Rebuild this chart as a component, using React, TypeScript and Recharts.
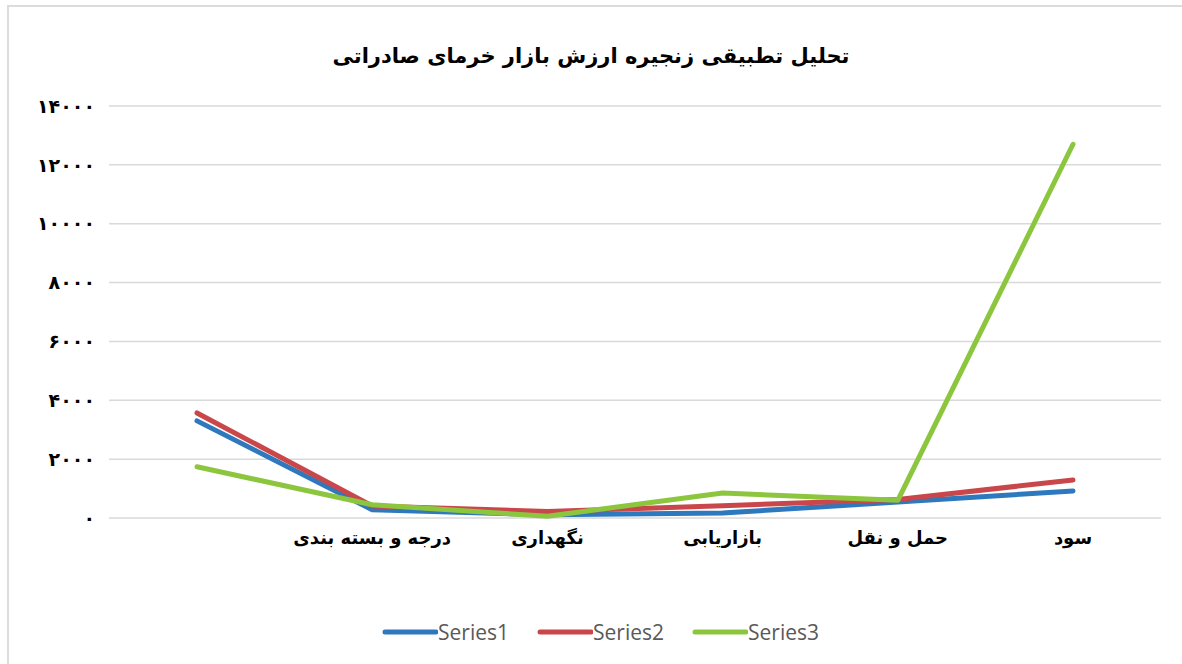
import React from "react";
import { LineChart, Line, XAxis, YAxis, CartesianGrid, Legend } from "recharts";

const categories = ["", "درجه و بسته بندی", "نگهداری", "بازاریابی", "حمل و نقل", "سود"];
const series1 = [3300, 280, 110, 170, 540, 920];
const series2 = [3570, 410, 220, 420, 630, 1290];
const series3 = [1740, 450, 60, 850, 600, 12700];
const yTicks = [0, 2000, 4000, 6000, 8000, 10000, 12000, 14000];
const seriesNames = ["Series1", "Series2", "Series3"];
const seriesColors = ["#2E78BE", "#C9474A", "#8CC63E"];
const title = "تحلیل تطبیقی زنجیره ارزش بازار خرمای صادراتی";

const data = categories.map((c, i) => ({
  name: c,
  Series1: series1[i],
  Series2: series2[i],
  Series3: series3[i],
}));

const faDigits = "۰۱۲۳۴۵۶۷۸۹";
const toFa = (v: number | string) => String(v).replace(/[0-9]/g, (d) => faDigits[Number(d)]);

const W = 1182;
const H = 664;
const plotLeft = 109;
const plotRight = 1161;
const pad = Math.round((plotRight - plotLeft) / 12);

const LegendContent = () => (
  <div style={{ display: "flex", justifyContent: "center", alignItems: "center", gap: 28, paddingLeft: 40 }}>
    {seriesNames.map((n, i) => (
      <div key={n} style={{ display: "flex", alignItems: "center" }}>
        <svg width={56} height={10}>
          <line x1={3} y1={5} x2={54} y2={5} stroke={seriesColors[i]} strokeWidth={5} strokeLinecap="round" />
        </svg>
        <span style={{ fontFamily: "'Open Sans', 'Liberation Sans', sans-serif", fontSize: 21, color: "#595959" }}>{n}</span>
      </div>
    ))}
  </div>
);

export default function App() {
  return (
    <div style={{ position: "absolute", left: 0, top: 0, width: W, height: H, background: "#fff" }}>
      <div
        style={{
          position: "absolute",
          left: 7,
          top: 5,
          width: W - 7,
          height: H - 5,
          borderTop: "2px solid #dcdcdc",
          borderLeft: "2px solid #dcdcdc",
          boxSizing: "border-box",
        }}
      />
      <div
        style={{
          position: "absolute",
          left: 0,
          top: 44,
          width: W,
          textAlign: "center",
          fontFamily: "'DejaVu Sans', sans-serif",
          fontWeight: "bold",
          fontSize: 21,
          color: "#000",
          direction: "rtl",
        }}
      >
        {title}
      </div>
      <div style={{ position: "absolute", left: 0, top: 0 }}>
        <LineChart width={W} height={H} data={data} margin={{ top: 106, right: W - plotRight, left: 0, bottom: 20 }}>
          <CartesianGrid vertical={false} stroke="#d9d9d9" strokeWidth={1.5} />
          <XAxis
            dataKey="name"
            axisLine={false}
            tickLine={false}
            tickSize={0}
            tickMargin={13}
            height={100}
            interval={0}
            padding={{ left: pad, right: pad }}
            tick={{ fontFamily: "'DejaVu Sans', sans-serif", fontWeight: "bold", fontSize: 18, fill: "#000" }}
          />
          <YAxis
            width={plotLeft}
            domain={[0, 14000]}
            ticks={yTicks}
            axisLine={false}
            tickLine={false}
            tickSize={0}
            tickMargin={14}
            tickFormatter={toFa}
            tick={{ fontFamily: "'DejaVu Sans', sans-serif", fontWeight: "bold", fontSize: 19, fill: "#000" }}
          />
          <Legend verticalAlign="bottom" height={26} content={<LegendContent />} />
          {seriesNames.map((n, i) => (
            <Line
              key={n}
              type="linear"
              dataKey={n}
              stroke={seriesColors[i]}
              strokeWidth={5}
              strokeLinecap="round"
              strokeLinejoin="round"
              dot={false}
              activeDot={false}
              isAnimationActive={false}
            />
          ))}
        </LineChart>
      </div>
    </div>
  );
}
